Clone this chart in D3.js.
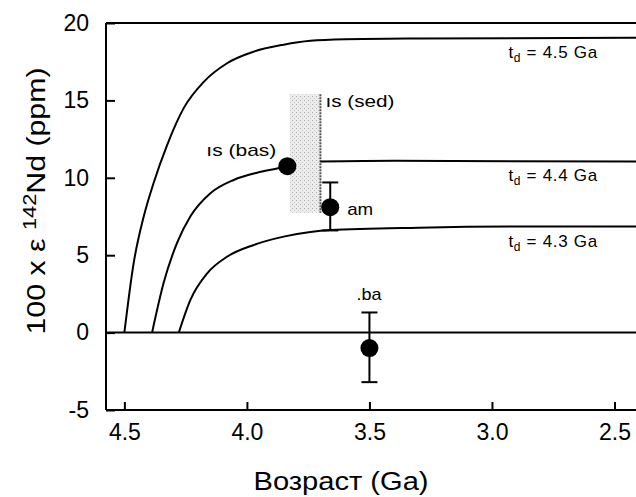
<!DOCTYPE html>
<html lang="ru">
<head>
<meta charset="UTF-8">
<title>142Nd</title>
<style>
  body { margin: 0; background: #fff; }
  svg { display: block; }
  text { font-family: "Liberation Sans", Arial, sans-serif; fill: #000; }
</style>
</head>
<body>
<div id="chart"></div>
<script src="https://cdn.jsdelivr.net/npm/d3@7"></script>
<script>
// --- data ---
const xTicks = [4.5, 4.0, 3.5, 3.0, 2.5];
const yTicks = [-5, 0, 5, 10, 15, 20];

// ingrowth curves [age Ga, 100 x e142Nd]
const curve45 = [[4.50,0],[4.462,4.5],[4.421,7.5],[4.38,9.7],[4.326,12.1],[4.258,14.5],[4.176,16.2],[4.081,17.4],[3.972,18.15],[3.85,18.6],[3.741,18.85],[3.6,18.95],[3.3,19.0],[2.4,19.05]];
const curve44 = [[4.387,0],[4.34,3.2],[4.285,5.8],[4.231,7.5],[4.149,9.0],[4.054,9.86],[3.958,10.33],[3.877,10.6],[3.835,10.75],[3.77,null],[3.70,11.05],[3.4,11.1],[2.4,11.05]];
const curve43 = [[4.278,0],[4.231,2.1],[4.162,3.83],[4.081,4.9],[3.972,5.66],[3.85,6.2],[3.741,6.5],[3.66,6.62],[3.3,6.78],[2.9,6.85],[2.4,6.85]];
const curveNames = ["4.5", "4.4", "4.3"];
const curveLevels = [19.0, 11.1, 6.85];

// samples
const sampleLabels = ["ıs (bas)", "am", ".ba"];
const sampleAges = [3.835, 3.66, 3.5];
const sampleValues = [10.75, 8.1, -1.0];
const sampleLow = [null, 6.6, -3.2];
const sampleHigh = [null, 9.7, 1.3];

// sediment range box
const sedAge = [3.825, 3.70];
const sedValue = [7.75, 15.4];

const W = 636, H = 497;
const svg = d3.select("#chart").append("svg").attr("width", W).attr("height", H);

const x = d3.scaleLinear().domain([4.575, 2.4]).range([106, 639]);
const y = d3.scaleLinear().domain([-5, 20]).range([410, 23]);

// stipple pattern for the box
const defs = svg.append("defs");
const pat = defs.append("pattern").attr("id", "stip").attr("patternUnits", "userSpaceOnUse")
  .attr("width", 4).attr("height", 4);
pat.append("rect").attr("width", 4).attr("height", 4).attr("fill", "#ececec");
pat.append("rect").attr("x", 0).attr("y", 0).attr("width", 1).attr("height", 1).attr("fill", "#aaa");
pat.append("rect").attr("x", 2).attr("y", 2).attr("width", 1).attr("height", 1).attr("fill", "#c4c4c4");

svg.append("rect")
  .attr("x", x(sedAge[0])).attr("y", y(sedValue[1]))
  .attr("width", x(sedAge[1]) - x(sedAge[0]))
  .attr("height", y(sedValue[0]) - y(sedValue[1]))
  .attr("fill", "url(#stip)");
svg.append("line")
  .attr("x1", x(sedAge[1])).attr("x2", x(sedAge[1]))
  .attr("y1", y(sedValue[1])).attr("y2", y(sedValue[0]))
  .attr("stroke", "#555").attr("stroke-width", 2).attr("stroke-dasharray", "2,1");

// axes frame
const frame = svg.append("g").attr("stroke", "#000").attr("stroke-width", 2);
frame.append("line").attr("x1", x.range()[0]).attr("x2", W).attr("y1", y(20)).attr("y2", y(20));
frame.append("line").attr("x1", x.range()[0]).attr("x2", W).attr("y1", y(-5)).attr("y2", y(-5));
frame.append("line").attr("x1", x.range()[0]).attr("x2", x.range()[0]).attr("y1", y(20)).attr("y2", y(-5));
frame.append("line").attr("x1", x.range()[0]).attr("x2", W).attr("y1", y(0)).attr("y2", y(0));

// x axis
const xAxis = d3.axisBottom(x).tickValues(xTicks).tickFormat(d3.format(".1f")).tickSize(-8).tickPadding(14);
const gx = svg.append("g").attr("transform", `translate(0,${y(-5)})`).call(xAxis);
gx.select(".domain").remove();
gx.selectAll(".tick line").attr("stroke-width", 2);
gx.selectAll(".tick text").attr("font-size", 23).attr("font-family", "Liberation Sans, Arial, sans-serif");

// y axis (plain hyphen for negatives, as in the figure)
const yAxis = d3.axisLeft(y).tickValues(yTicks).tickFormat(d => String(d)).tickSize(-9).tickPadding(17);
const gy = svg.append("g").attr("transform", `translate(${x.range()[0]},0)`).call(yAxis);
gy.select(".domain").remove();
gy.selectAll(".tick line").attr("stroke-width", 2);
gy.selectAll(".tick text").attr("font-size", 23).attr("font-family", "Liberation Sans, Arial, sans-serif");

// curves
const line = d3.line()
  .defined(d => d[1] !== null)
  .x(d => x(d[0])).y(d => y(d[1]))
  .curve(d3.curveMonotoneX);
[curve45, curve44, curve43].forEach(c => {
  svg.append("path").attr("d", line(c)).attr("fill", "none")
    .attr("stroke", "#000").attr("stroke-width", 2);
});

// curve labels
curveNames.forEach((n, i) => {
  const t = svg.append("text")
    .attr("x", x(2.933)).attr("y", y(curveLevels[i]) + 20)
    .attr("font-size", 17).attr("letter-spacing", 0.7);
  t.append("tspan").text("t");
  t.append("tspan").attr("font-size", 12).attr("dy", 4).text("d");
  t.append("tspan").attr("dy", -4).text(" = " + n + " Ga");
});

// error bars
sampleAges.forEach((a, i) => {
  if (sampleLow[i] === null) return;
  const g = svg.append("g").attr("stroke", "#000").attr("stroke-width", 2);
  g.append("line").attr("x1", x(a)).attr("x2", x(a)).attr("y1", y(sampleLow[i])).attr("y2", y(sampleHigh[i]));
  [sampleLow[i], sampleHigh[i]].forEach(v => {
    g.append("line").attr("x1", x(a) - 8).attr("x2", x(a) + 8).attr("y1", y(v)).attr("y2", y(v));
  });
});

// points
svg.selectAll("circle.pt").data(sampleAges).join("circle")
  .attr("class", "pt")
  .attr("cx", d => x(d)).attr("cy", (d, i) => y(sampleValues[i]))
  .attr("r", 9).attr("fill", "#000");

// sample labels
const lab = (txt, px, py, len) => svg.append("text").attr("x", px).attr("y", py)
  .attr("font-size", 17).attr("textLength", len).attr("lengthAdjust", "spacingAndGlyphs").text(txt);
lab(sampleLabels[0], x(sampleAges[0]) - 81, y(sampleValues[0]) - 10, 70);
lab(sampleLabels[1], x(sampleAges[1]) + 17, y(sampleValues[1]) + 8, 26);
lab(sampleLabels[2], x(sampleAges[2]) - 13, y(sampleHigh[2]) - 12, 25);
lab("ıs (sed)", x(sedAge[1]) + 5, y(sedValue[1]) + 13, 69);

// axis titles
svg.append("text")
  .attr("x", 341).attr("y", 490).attr("text-anchor", "middle")
  .attr("font-size", 25).attr("textLength", 175).attr("lengthAdjust", "spacingAndGlyphs")
  .text("Возраст  (Ga)");

const yt = svg.append("text")
  .attr("transform", "translate(45,201) rotate(-90)")
  .attr("text-anchor", "middle").attr("font-size", 25)
  .attr("textLength", 267).attr("lengthAdjust", "spacingAndGlyphs");
yt.append("tspan").text("100 x ε ");
yt.append("tspan").attr("font-size", 18).attr("dy", -9).text("142");
yt.append("tspan").attr("dy", 9).text("Nd (ppm)");
</script>
</body>
</html>
